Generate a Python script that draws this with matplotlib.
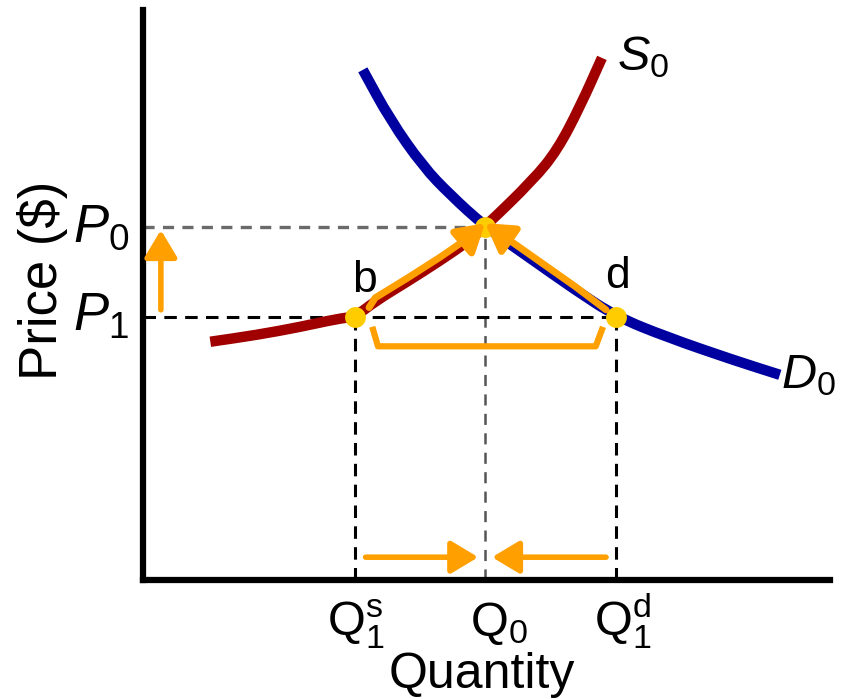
"""
Supply and demand: price below equilibrium, shortage pushes price back up
"""
import matplotlib
matplotlib.use('Agg')
import matplotlib.pyplot as plt
from matplotlib.patches import FancyArrowPatch, PathPatch
from matplotlib.path import Path
import numpy as np

plt.rcParams['font.family'] = ['Liberation Sans', 'DejaVu Sans']
plt.rcParams['mathtext.fontset'] = 'custom'
plt.rcParams['mathtext.rm'] = 'Liberation Sans'
plt.rcParams['mathtext.it'] = 'Liberation Sans:italic'
plt.rcParams['lines.scale_dashes'] = False

# curve points (quantity, price), axes run 0..100
supply_q = [9.8, 16.6, 22.9, 28.2, 30.9, 33.8, 38.4, 43.2, 47.2, 49.8, 56.8, 60.3, 63.6, 66.8]
supply_p = [41.8, 43.0, 44.4, 45.8, 46.2, 48.9, 52.3, 56.0, 59.3, 62.0, 70.2, 75.4, 83.0, 91.6]
demand_q = [32.0, 36.0, 40.8, 44.7, 49.8, 56.3, 62.9, 68.9, 76.3, 85.9, 92.7]
demand_p = [89.5, 80.7, 72.5, 67.6, 62.0, 56.5, 50.9, 46.2, 42.6, 38.6, 36.0]

# equilibrium and the lower price
P0, P1 = 62.0, 46.2
Q0, Qs1, Qd1 = 49.8, 30.9, 68.9

RED = '#A00000'
BLUE = '#0000A0'
ORANGE = '#FFA000'
GOLD = '#FFCC00'
HEAD = '-|>,head_length=0.75,head_width=0.45'


def smooth_path(xs, ys):
    # quadratic bezier through midpoints, the read points act as control points
    pts = np.column_stack([xs, ys])
    verts = [pts[0], (pts[0] + pts[1]) / 2]
    codes = [Path.MOVETO, Path.LINETO]
    for i in range(1, len(pts) - 1):
        verts += [pts[i], (pts[i] + pts[i + 1]) / 2]
        codes += [Path.CURVE3, Path.CURVE3]
    verts.append(pts[-1])
    codes.append(Path.LINETO)
    return Path(verts, codes)


fig = plt.figure(figsize=(8.48, 6.99), dpi=100)
ax = fig.add_axes([143 / 848, 119 / 699, 687 / 848, 570 / 699])
ax.set_xlim(0, 100)
ax.set_ylim(0, 100)
for side in ['top', 'right']:
    ax.spines[side].set_visible(False)
for side in ['left', 'bottom']:
    ax.spines[side].set_linewidth(4.5)
ax.set_xticks([])
ax.set_yticks([])

# guide lines
ax.plot([0, Q0], [P0, P0], color='#6a6a6a', lw=2.4, ls=(0, (8, 6)), zorder=2)
ax.plot([Q0, Q0], [0, P0], color='#555555', lw=1.8, ls=(0, (8, 6)), zorder=2)
ax.plot([0, Qd1], [P1, P1], color='black', lw=2.2, ls=(0, (9, 6)), zorder=2)
ax.plot([Qs1, Qs1], [0, P1], color='black', lw=2.2, ls=(0, (9, 6)), zorder=2)
ax.plot([Qd1, Qd1], [0, P1], color='black', lw=2.2, ls=(0, (9, 6)), zorder=2)

# curves
ax.add_patch(PathPatch(smooth_path(supply_q, supply_p), fill=False, edgecolor=RED, lw=7.5,
                       capstyle='butt', joinstyle='round', zorder=3))
ax.add_patch(PathPatch(smooth_path(demand_q, demand_p), fill=False, edgecolor=BLUE, lw=7.5,
                       capstyle='butt', joinstyle='round', zorder=3))

# orange arrows sliding along the curves to equilibrium
sq, sp = np.array(supply_q), np.array(supply_p)
m = (sq > Qs1 + 1) & (sq < Q0 + 0.1)
pts = np.column_stack([sq[m], sp[m] + 0.6])
pts = np.vstack([[Qs1 + 2.0, P1 + 1.6], pts])
ax.add_patch(FancyArrowPatch(path=Path(pts), arrowstyle=HEAD, mutation_scale=22,
                             color=ORANGE, lw=5, joinstyle='round', zorder=5))
dq, dp = np.array(demand_q), np.array(demand_p)
m = (dq > Q0 - 0.1) & (dq < Qd1 - 1)
pts = np.column_stack([dq[m], dp[m] + 0.6])[::-1]
pts = np.vstack([[Qd1 - 1.5, P1 + 1.2], pts])
ax.add_patch(FancyArrowPatch(path=Path(pts), arrowstyle=HEAD, mutation_scale=22,
                             color=ORANGE, lw=5, joinstyle='round', zorder=5))

# price rising arrow next to the axis
ax.annotate('', xy=(2.6, P0 - 0.6), xytext=(2.6, P1 + 1.2),
            arrowprops=dict(arrowstyle=HEAD, mutation_scale=22,
                            color=ORANGE, lw=4, shrinkA=0, shrinkB=0), zorder=5)

# shortage bracket
ax.plot([Qs1 + 2.6, Qs1 + 3.3, Qd1 - 3.0, Qd1 - 2.1],
        [P1 - 2.3, P1 - 5.2, P1 - 5.2, P1 - 2.3],
        color=ORANGE, lw=4.5, solid_joinstyle='round', zorder=4)

# quantity arrows on the axis
ax.annotate('', xy=(Q0 - 1.0, 4.0), xytext=(Qs1 + 1.5, 4.0),
            arrowprops=dict(arrowstyle=HEAD, mutation_scale=22,
                            color=ORANGE, lw=4, shrinkA=0, shrinkB=0), zorder=5)
ax.annotate('', xy=(Q0 + 1.0, 4.0), xytext=(Qd1 - 1.5, 4.0),
            arrowprops=dict(arrowstyle=HEAD, mutation_scale=22,
                            color=ORANGE, lw=4, shrinkA=0, shrinkB=0), zorder=5)

# points
ax.plot([Qs1, Qd1, Q0], [P1, P1, P0], 'o', color=GOLD, ms=15, mec='none', zorder=4.5)

# labels
ax.text(Qs1 + 1.3, 52.5, 'b', fontsize=32, ha='center', va='center')
ax.text(Qd1 + 0.2, 53.2, 'd', fontsize=32, ha='center', va='center')
ax.text(69.0, 89.5, '$S_0$', fontsize=35, ha='left', va='baseline')
ax.text(92.8, 33.6, '$D_0$', fontsize=35, ha='left', va='baseline')

ax.text(-2.0, P0 - 2.6, '$P_0$', fontsize=38, ha='right', va='baseline')
ax.text(-2.0, P1 - 2.4, '$P_1$', fontsize=38, ha='right', va='baseline')

ax.text(Qs1, -9.9, r'$\mathrm{Q}_1^\mathrm{s}$', fontsize=35, ha='center', va='baseline')
ax.text(Q0 + 2.0, -9.9, r'$\mathrm{Q}_0$', fontsize=35, ha='center', va='baseline')
ax.text(Qd1 + 1.0, -9.9, r'$\mathrm{Q}_1^\mathrm{d}$', fontsize=35, ha='center', va='baseline')

ax.text(49.3, -18.9, 'Quantity', fontsize=36, ha='center', va='baseline')
ax.text(-14.6, 52.5, 'Price ($)', fontsize=38, ha='center', va='center', rotation=90)

fig.savefig('out.png', dpi=100)
